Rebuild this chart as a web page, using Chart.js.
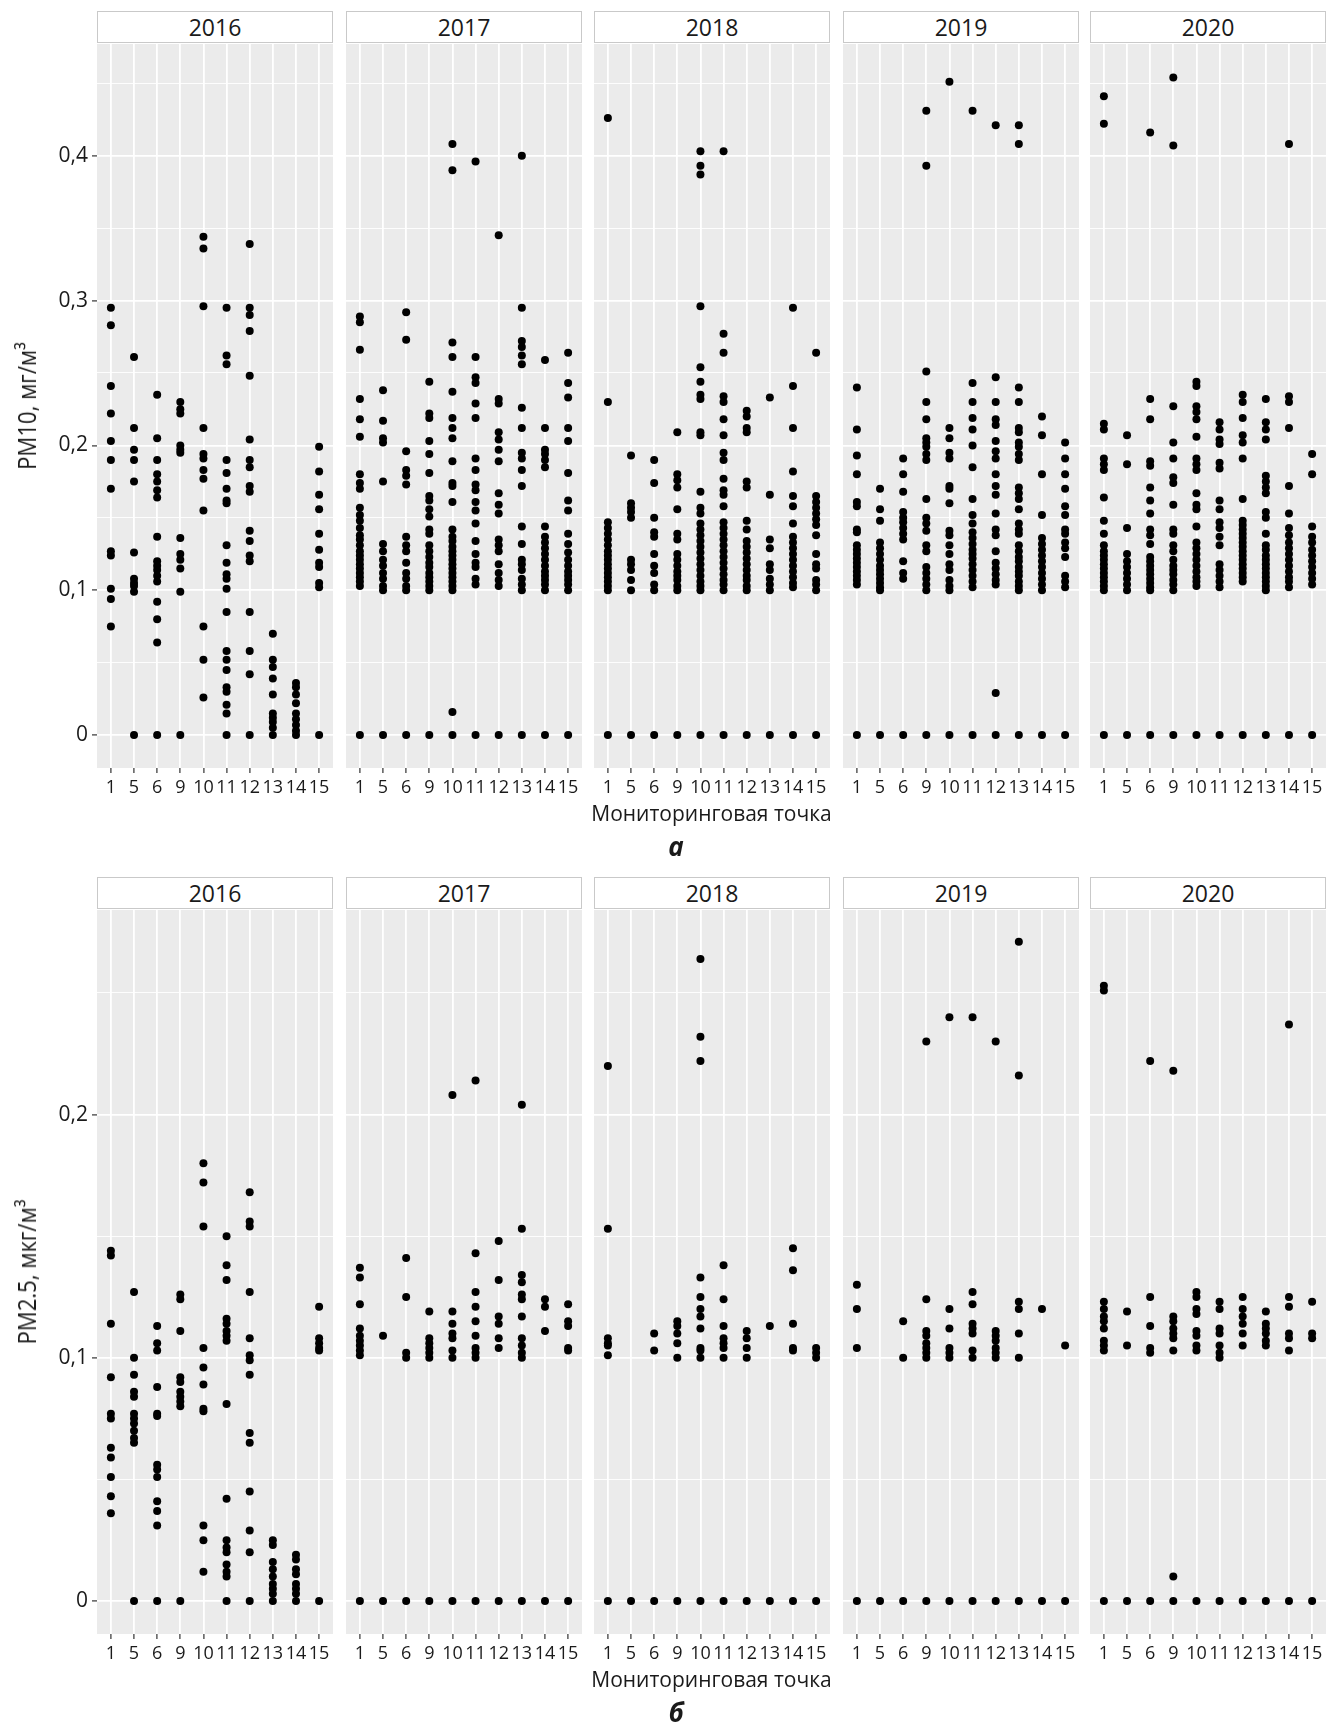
<!DOCTYPE html>
<html lang="ru">
<head>
<meta charset="UTF-8">
<title>PM10 и PM2.5 по мониторинговым точкам</title>
<script src="https://cdn.jsdelivr.net/npm/chart.js"></script>
<style>
    body {
        margin: 0;
        width: 1338px;
        height: 1724px;
        position: relative;
        overflow: hidden;
        background: #fff;
        font-family: 'Open Sans', sans-serif;
        color: #1a1a1a;
    }
    canvas { position: absolute; }
    .strip {
        position: absolute;
        height: 32px;
        box-sizing: border-box;
        background: #fff;
        border: 1px solid #c9c9c9;
        text-align: center;
        font-size: 23px;
        line-height: 30px;
    }
    .ytitle {
        position: absolute;
        white-space: nowrap;
        font-size: 26px;
        transform: translate(-50%, -50%) rotate(-90deg) scaleX(0.85);
    }
    .xtitle {
        position: absolute;
        white-space: nowrap;
        font-size: 21px;
        transform: translate(-50%, -50%);
    }
    .tag {
        position: absolute;
        font-size: 26px;
        font-weight: bold;
        font-style: italic;
        transform: translate(-50%, -50%);
    }
</style>
</head>
<body>
<script>
    // categories (monitoring points) and facet years
    const points = ['1', '5', '6', '9', '10', '11', '12', '13', '14', '15'];
    const years = ['2016', '2017', '2018', '2019', '2020'];
    const pm10Ticks = [0, 0.1, 0.2, 0.3, 0.4];
    const pm25Ticks = [0, 0.1, 0.2];

    // PM10, mg/m3 - one list of values per monitoring point
    const pm10_2016 = [
        [0.295, 0.283, 0.241, 0.222, 0.203, 0.190, 0.170, 0.127, 0.124, 0.101, 0.094, 0.075],
        [0.261, 0.212, 0.197, 0.190, 0.175, 0.126, 0.108, 0.105, 0.103, 0.099, 0],
        [0.235, 0.205, 0.190, 0.180, 0.175, 0.169, 0.164, 0.137, 0.120, 0.117, 0.114, 0.110, 0.106, 0.092, 0.080, 0.064, 0],
        [0.230, 0.225, 0.222, 0.200, 0.197, 0.195, 0.136, 0.125, 0.121, 0.115, 0.099, 0],
        [0.344, 0.336, 0.296, 0.212, 0.194, 0.191, 0.183, 0.177, 0.155, 0.075, 0.052, 0.026],
        [0.295, 0.262, 0.256, 0.190, 0.181, 0.170, 0.162, 0.160, 0.131, 0.119, 0.111, 0.108, 0.101, 0.085, 0.058, 0.052, 0.045, 0.033, 0.030, 0.021, 0.015, 0],
        [0.339, 0.295, 0.290, 0.279, 0.248, 0.204, 0.190, 0.185, 0.172, 0.168, 0.141, 0.134, 0.124, 0.120, 0.085, 0.058, 0.042, 0],
        [0.070, 0.052, 0.047, 0.039, 0.028, 0.015, 0.012, 0.009, 0.005, 0],
        [0.036, 0.033, 0.028, 0.022, 0.015, 0.011, 0.007, 0.003, 0],
        [0.199, 0.182, 0.166, 0.156, 0.139, 0.128, 0.119, 0.116, 0.105, 0.102, 0]
    ];
    const pm10_2017 = [
        [0.289, 0.285, 0.266, 0.232, 0.218, 0.206, 0.180, 0.174, 0.170, 0.157, 0.152, 0.148, 0.143, 0.138, 0.135, 0.131, 0.127, 0.124, 0.121, 0.118, 0.115, 0.112, 0.109, 0.106, 0.103, 0],
        [0.238, 0.217, 0.205, 0.202, 0.175, 0.132, 0.127, 0.121, 0.117, 0.112, 0.108, 0.103, 0.100, 0],
        [0.292, 0.273, 0.196, 0.183, 0.179, 0.173, 0.137, 0.131, 0.127, 0.119, 0.112, 0.108, 0.103, 0.100, 0],
        [0.244, 0.222, 0.219, 0.203, 0.194, 0.181, 0.165, 0.162, 0.156, 0.151, 0.142, 0.139, 0.131, 0.127, 0.123, 0.119, 0.116, 0.112, 0.109, 0.106, 0.103, 0.100, 0],
        [0.408, 0.390, 0.271, 0.261, 0.237, 0.219, 0.212, 0.205, 0.189, 0.174, 0.172, 0.161, 0.142, 0.137, 0.134, 0.130, 0.127, 0.124, 0.121, 0.118, 0.115, 0.112, 0.109, 0.106, 0.103, 0.100, 0.016, 0],
        [0.396, 0.261, 0.247, 0.243, 0.229, 0.219, 0.191, 0.183, 0.173, 0.169, 0.161, 0.155, 0.146, 0.134, 0.125, 0.119, 0.116, 0.108, 0.104, 0],
        [0.345, 0.232, 0.229, 0.209, 0.204, 0.197, 0.189, 0.167, 0.159, 0.153, 0.135, 0.131, 0.127, 0.118, 0.112, 0.107, 0.103, 0],
        [0.400, 0.295, 0.272, 0.268, 0.262, 0.256, 0.226, 0.212, 0.195, 0.191, 0.183, 0.172, 0.144, 0.132, 0.121, 0.118, 0.114, 0.108, 0.104, 0.100, 0],
        [0.259, 0.212, 0.197, 0.194, 0.190, 0.185, 0.144, 0.137, 0.133, 0.129, 0.125, 0.121, 0.117, 0.113, 0.110, 0.107, 0.104, 0.100, 0],
        [0.264, 0.243, 0.233, 0.212, 0.203, 0.181, 0.162, 0.155, 0.139, 0.132, 0.126, 0.121, 0.117, 0.113, 0.110, 0.107, 0.104, 0.100, 0]
    ];
    const pm10_2018 = [
        [0.426, 0.230, 0.147, 0.143, 0.139, 0.135, 0.131, 0.127, 0.124, 0.121, 0.118, 0.115, 0.112, 0.109, 0.106, 0.103, 0.100, 0],
        [0.193, 0.160, 0.157, 0.154, 0.150, 0.121, 0.118, 0.114, 0.107, 0.100, 0],
        [0.190, 0.174, 0.150, 0.140, 0.137, 0.125, 0.117, 0.112, 0.104, 0.100, 0],
        [0.209, 0.180, 0.176, 0.171, 0.156, 0.139, 0.135, 0.125, 0.121, 0.117, 0.113, 0.110, 0.107, 0.103, 0.100, 0],
        [0.403, 0.393, 0.387, 0.296, 0.254, 0.244, 0.235, 0.232, 0.209, 0.207, 0.168, 0.157, 0.153, 0.146, 0.142, 0.138, 0.134, 0.130, 0.126, 0.122, 0.118, 0.114, 0.110, 0.106, 0.103, 0.100, 0],
        [0.403, 0.277, 0.264, 0.234, 0.230, 0.218, 0.207, 0.195, 0.190, 0.177, 0.169, 0.166, 0.158, 0.147, 0.143, 0.139, 0.135, 0.131, 0.127, 0.123, 0.119, 0.115, 0.111, 0.107, 0.104, 0.100, 0],
        [0.224, 0.220, 0.212, 0.209, 0.175, 0.171, 0.148, 0.142, 0.134, 0.130, 0.126, 0.122, 0.118, 0.114, 0.110, 0.107, 0.103, 0.100, 0],
        [0.233, 0.166, 0.135, 0.129, 0.118, 0.114, 0.108, 0.104, 0.100, 0],
        [0.295, 0.241, 0.212, 0.182, 0.165, 0.158, 0.146, 0.137, 0.133, 0.129, 0.125, 0.121, 0.117, 0.113, 0.109, 0.105, 0.102, 0],
        [0.264, 0.165, 0.161, 0.157, 0.153, 0.149, 0.145, 0.138, 0.125, 0.118, 0.115, 0.107, 0.104, 0.100, 0]
    ];
    const pm10_2019 = [
        [0.240, 0.211, 0.193, 0.180, 0.161, 0.158, 0.142, 0.140, 0.131, 0.128, 0.125, 0.122, 0.119, 0.116, 0.113, 0.110, 0.107, 0.104, 0],
        [0.170, 0.156, 0.148, 0.133, 0.129, 0.125, 0.121, 0.117, 0.114, 0.111, 0.108, 0.105, 0.102, 0.100, 0],
        [0.191, 0.180, 0.168, 0.154, 0.150, 0.147, 0.143, 0.139, 0.135, 0.120, 0.112, 0.108, 0],
        [0.431, 0.393, 0.251, 0.230, 0.218, 0.205, 0.202, 0.199, 0.194, 0.190, 0.163, 0.150, 0.146, 0.141, 0.131, 0.127, 0.116, 0.112, 0.108, 0.104, 0.100, 0],
        [0.451, 0.212, 0.205, 0.195, 0.191, 0.172, 0.170, 0.160, 0.141, 0.138, 0.131, 0.125, 0.118, 0.114, 0.107, 0.103, 0.100, 0],
        [0.431, 0.243, 0.230, 0.219, 0.211, 0.200, 0.185, 0.163, 0.152, 0.146, 0.140, 0.136, 0.132, 0.128, 0.125, 0.122, 0.118, 0.114, 0.110, 0.106, 0.102, 0],
        [0.421, 0.247, 0.230, 0.218, 0.214, 0.203, 0.196, 0.191, 0.180, 0.172, 0.166, 0.153, 0.142, 0.138, 0.127, 0.119, 0.115, 0.111, 0.107, 0.104, 0.029, 0],
        [0.421, 0.408, 0.240, 0.230, 0.212, 0.209, 0.202, 0.199, 0.194, 0.190, 0.171, 0.167, 0.163, 0.156, 0.146, 0.142, 0.139, 0.131, 0.127, 0.123, 0.120, 0.116, 0.113, 0.110, 0.106, 0.103, 0.100, 0],
        [0.220, 0.207, 0.180, 0.152, 0.136, 0.132, 0.128, 0.124, 0.120, 0.116, 0.112, 0.108, 0.104, 0.100, 0],
        [0.202, 0.191, 0.180, 0.170, 0.158, 0.152, 0.142, 0.139, 0.133, 0.129, 0.123, 0.110, 0.106, 0.102, 0]
    ];
    const pm10_2020 = [
        [0.441, 0.422, 0.215, 0.211, 0.191, 0.187, 0.183, 0.164, 0.148, 0.139, 0.131, 0.127, 0.124, 0.121, 0.118, 0.115, 0.112, 0.109, 0.106, 0.103, 0.100, 0],
        [0.207, 0.187, 0.143, 0.125, 0.120, 0.116, 0.112, 0.108, 0.104, 0.100, 0],
        [0.416, 0.232, 0.218, 0.189, 0.186, 0.171, 0.162, 0.153, 0.142, 0.138, 0.132, 0.123, 0.120, 0.117, 0.114, 0.111, 0.108, 0.105, 0.102, 0.100, 0],
        [0.454, 0.407, 0.227, 0.202, 0.191, 0.178, 0.174, 0.159, 0.142, 0.139, 0.131, 0.127, 0.121, 0.117, 0.114, 0.111, 0.107, 0.104, 0.100, 0],
        [0.244, 0.241, 0.227, 0.223, 0.218, 0.206, 0.191, 0.187, 0.183, 0.167, 0.159, 0.156, 0.144, 0.133, 0.129, 0.125, 0.121, 0.117, 0.113, 0.109, 0.106, 0.103, 0],
        [0.216, 0.211, 0.204, 0.201, 0.188, 0.184, 0.162, 0.156, 0.147, 0.143, 0.137, 0.131, 0.118, 0.114, 0.110, 0.106, 0.102, 0],
        [0.235, 0.230, 0.219, 0.207, 0.202, 0.191, 0.163, 0.148, 0.145, 0.142, 0.139, 0.136, 0.133, 0.130, 0.127, 0.124, 0.121, 0.118, 0.115, 0.112, 0.109, 0.106, 0],
        [0.232, 0.216, 0.211, 0.204, 0.179, 0.175, 0.171, 0.167, 0.154, 0.150, 0.139, 0.131, 0.128, 0.124, 0.121, 0.118, 0.115, 0.112, 0.109, 0.106, 0.103, 0.100, 0],
        [0.408, 0.234, 0.230, 0.212, 0.172, 0.153, 0.143, 0.138, 0.133, 0.129, 0.125, 0.121, 0.117, 0.113, 0.109, 0.106, 0.102, 0],
        [0.194, 0.180, 0.144, 0.137, 0.133, 0.128, 0.124, 0.120, 0.116, 0.112, 0.108, 0.104, 0]
    ];

    // PM2.5, mkg/m3
    const pm25_2016 = [
        [0.144, 0.142, 0.114, 0.092, 0.077, 0.075, 0.063, 0.059, 0.051, 0.043, 0.036],
        [0.127, 0.100, 0.093, 0.086, 0.084, 0.077, 0.075, 0.073, 0.070, 0.067, 0.065, 0],
        [0.113, 0.106, 0.103, 0.088, 0.077, 0.076, 0.056, 0.054, 0.051, 0.041, 0.037, 0.031, 0],
        [0.126, 0.124, 0.111, 0.092, 0.090, 0.086, 0.084, 0.082, 0.080, 0],
        [0.180, 0.172, 0.154, 0.104, 0.096, 0.089, 0.079, 0.078, 0.031, 0.025, 0.012],
        [0.150, 0.138, 0.132, 0.116, 0.114, 0.111, 0.109, 0.107, 0.081, 0.042, 0.025, 0.022, 0.020, 0.015, 0.012, 0.010, 0],
        [0.168, 0.156, 0.154, 0.127, 0.108, 0.101, 0.099, 0.093, 0.069, 0.065, 0.045, 0.029, 0.020, 0],
        [0.025, 0.023, 0.016, 0.013, 0.010, 0.007, 0.005, 0.003, 0],
        [0.019, 0.017, 0.013, 0.011, 0.007, 0.005, 0.003, 0],
        [0.121, 0.108, 0.106, 0.104, 0.103, 0]
    ];
    const pm25_2017 = [
        [0.137, 0.133, 0.122, 0.112, 0.109, 0.107, 0.105, 0.103, 0.101, 0],
        [0.109, 0],
        [0.141, 0.125, 0.102, 0.100, 0],
        [0.119, 0.108, 0.106, 0.104, 0.102, 0.100, 0],
        [0.208, 0.119, 0.114, 0.110, 0.108, 0.103, 0.100, 0],
        [0.214, 0.143, 0.127, 0.121, 0.115, 0.109, 0.104, 0.102, 0.100, 0],
        [0.148, 0.132, 0.117, 0.114, 0.108, 0.104, 0],
        [0.204, 0.153, 0.134, 0.131, 0.126, 0.124, 0.117, 0.108, 0.105, 0.102, 0.100, 0],
        [0.124, 0.121, 0.111, 0],
        [0.122, 0.115, 0.113, 0.104, 0.103, 0]
    ];
    const pm25_2018 = [
        [0.220, 0.153, 0.108, 0.106, 0.105, 0.101, 0],
        [0],
        [0.110, 0.103, 0],
        [0.115, 0.113, 0.110, 0.106, 0.100, 0],
        [0.264, 0.232, 0.222, 0.133, 0.125, 0.120, 0.117, 0.112, 0.104, 0.103, 0.100, 0],
        [0.138, 0.124, 0.113, 0.108, 0.106, 0.104, 0.100, 0],
        [0.111, 0.108, 0.104, 0.100, 0],
        [0.113, 0],
        [0.145, 0.136, 0.114, 0.104, 0.103, 0],
        [0.104, 0.102, 0.100, 0]
    ];
    const pm25_2019 = [
        [0.130, 0.120, 0.104, 0],
        [0],
        [0.115, 0.100, 0],
        [0.230, 0.124, 0.111, 0.109, 0.106, 0.104, 0.102, 0.100, 0],
        [0.240, 0.120, 0.112, 0.104, 0.102, 0.100, 0],
        [0.240, 0.127, 0.122, 0.114, 0.112, 0.110, 0.103, 0.100, 0],
        [0.230, 0.111, 0.109, 0.107, 0.104, 0.102, 0.100, 0],
        [0.271, 0.216, 0.123, 0.120, 0.110, 0.100, 0],
        [0.120, 0],
        [0.105, 0]
    ];
    const pm25_2020 = [
        [0.253, 0.251, 0.123, 0.120, 0.117, 0.115, 0.112, 0.107, 0.105, 0.103, 0],
        [0.119, 0.105, 0],
        [0.222, 0.125, 0.113, 0.104, 0.102, 0],
        [0.218, 0.117, 0.115, 0.112, 0.110, 0.108, 0.103, 0.010, 0],
        [0.127, 0.125, 0.120, 0.118, 0.111, 0.109, 0.105, 0.103, 0],
        [0.123, 0.120, 0.112, 0.110, 0.105, 0.102, 0.100, 0],
        [0.125, 0.120, 0.117, 0.114, 0.110, 0.105, 0],
        [0.119, 0.114, 0.112, 0.110, 0.107, 0.105, 0],
        [0.237, 0.125, 0.121, 0.110, 0.108, 0.103, 0],
        [0.123, 0.110, 0.108, 0]
    ];

    // layout
    const PANEL_LEFTS = [97, 346, 594, 843, 1090];
    const PANEL_W = 236;
    const PANEL_H = 724;
    const PAD_TOP = 20;
    const X_AXIS_H = 50;
    const Y_AXIS_W = 97;
    const TAG_X = 676;

    const rows = [
        {
            series: [pm10_2016, pm10_2017, pm10_2018, pm10_2019, pm10_2020],
            ticks: pm10Ticks, yMin: -0.0227, yMax: 0.4771, top: 44,
            title: 'PM10, мг/м³', tag: 'а'
        },
        {
            series: [pm25_2016, pm25_2017, pm25_2018, pm25_2019, pm25_2020],
            ticks: pm25Ticks, yMin: -0.0136, yMax: 0.2841, top: 910,
            title: 'PM2.5, мкг/м³', tag: 'б'
        }
    ];

    Chart.defaults.font.family = "'Open Sans', sans-serif";
    Chart.defaults.color = '#1a1a1a';

    const panelBg = {
        id: 'panelBg',
        beforeDraw(chart) {
            const a = chart.chartArea;
            const ctx = chart.ctx;
            ctx.save();
            ctx.fillStyle = '#ebebeb';
            ctx.fillRect(a.left, a.top, a.right - a.left, a.bottom - a.top);
            ctx.restore();
        }
    };

    function addDiv(cls, text, css) {
        const d = document.createElement('div');
        d.className = cls;
        d.textContent = text;
        Object.assign(d.style, css);
        document.body.appendChild(d);
    }

    function fmt(v) {
        return v === 0 ? '0' : v.toFixed(1).replace('.', ',');
    }

    function makePanel(row, pi) {
        const first = pi === 0;
        const left = PANEL_LEFTS[pi];
        const padL = first ? 0 : 15;
        const canvas = document.createElement('canvas');
        canvas.width = (first ? Y_AXIS_W : 15) + PANEL_W + 15;
        canvas.height = PAD_TOP + PANEL_H + X_AXIS_H;
        canvas.style.left = (first ? 0 : left - 15) + 'px';
        canvas.style.top = (row.top - PAD_TOP) + 'px';
        document.body.appendChild(canvas);

        const isMajor = v => row.ticks.some(t => Math.abs(t - v) < 1e-9);
        const gridVals = row.ticks.flatMap(t => [t, +(t + 0.05).toFixed(2)]);

        const data = [];
        row.series[pi].forEach((vals, ci) => {
            vals.forEach(v => data.push({ x: ci, y: v }));
        });

        new Chart(canvas, {
            type: 'scatter',
            data: {
                datasets: [{
                    data: data,
                    pointRadius: 4,
                    pointHoverRadius: 4,
                    backgroundColor: '#000',
                    borderColor: '#000',
                    borderWidth: 0
                }]
            },
            options: {
                responsive: false,
                animation: false,
                events: [],
                layout: { padding: { top: PAD_TOP, left: padL, right: 15, bottom: 0 } },
                plugins: { legend: { display: false }, tooltip: { enabled: false } },
                scales: {
                    x: {
                        type: 'linear',
                        min: -0.6,
                        max: points.length - 0.4,
                        afterBuildTicks: s => { s.ticks = points.map((p, i) => ({ value: i })); },
                        afterFit: s => { s.height = X_AXIS_H; },
                        border: { display: false },
                        grid: {
                            color: '#ffffff', lineWidth: 1.8,
                            drawTicks: true, tickLength: 5, tickColor: '#333', tickWidth: 1.2
                        },
                        ticks: {
                            autoSkip: false, maxRotation: 0, minRotation: 0, padding: 4,
                            font: { size: 18 },
                            callback: v => points[v]
                        }
                    },
                    y: {
                        type: 'linear',
                        min: row.yMin,
                        max: row.yMax,
                        afterBuildTicks: s => { s.ticks = gridVals.map(v => ({ value: v })); },
                        afterFit: s => { s.width = first ? Y_AXIS_W : 0; },
                        border: { display: false },
                        grid: {
                            color: '#ffffff',
                            lineWidth: c => (c.tick && isMajor(c.tick.value)) ? 1.8 : 0.9,
                            drawTicks: first, tickLength: 5, tickWidth: 1.2,
                            tickColor: c => (c.tick && isMajor(c.tick.value)) ? '#333' : 'rgba(0,0,0,0)'
                        },
                        ticks: {
                            display: first, padding: 4,
                            font: { size: 21 },
                            callback: v => isMajor(v) ? fmt(v) : ''
                        }
                    }
                }
            },
            plugins: [panelBg]
        });

        addDiv('strip', years[pi], {
            left: left + 'px', top: (row.top - 33) + 'px', width: PANEL_W + 'px'
        });
    }

    rows.forEach(row => {
        years.forEach((y, pi) => makePanel(row, pi));
        const midX = (PANEL_LEFTS[0] + PANEL_LEFTS[4] + PANEL_W) / 2;
        addDiv('ytitle', row.title, { left: '26px', top: (row.top + PANEL_H / 2) + 'px' });
        addDiv('xtitle', 'Мониторинговая точка', { left: midX + 'px', top: (row.top + PANEL_H + 45) + 'px' });
        addDiv('tag', row.tag, { left: TAG_X + 'px', top: (row.top + PANEL_H + 78) + 'px' });
    });
</script>
</body>
</html>
